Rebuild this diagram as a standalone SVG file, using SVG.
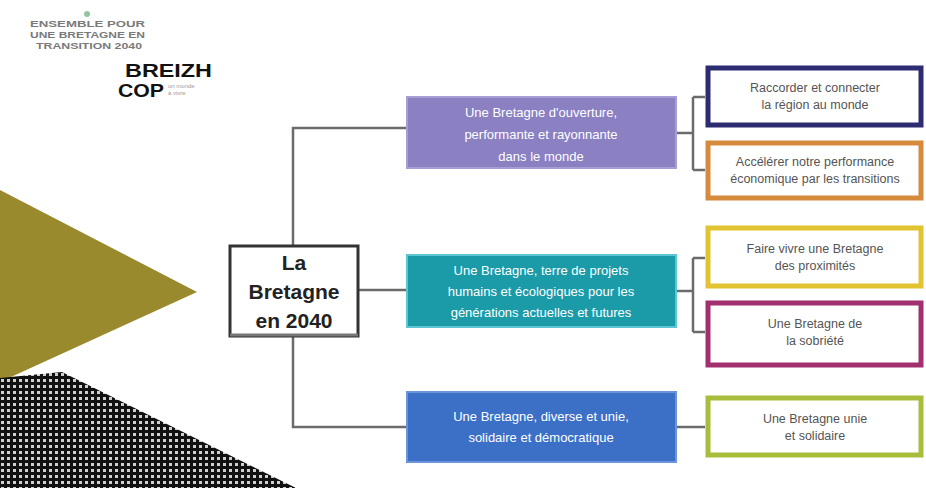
<svg xmlns="http://www.w3.org/2000/svg" width="926" height="488" viewBox="0 0 926 488">
  <style>
    .conn { stroke: #6b6b6b; stroke-width: 2.5; fill: none; }
    .mid text { font-family: "Liberation Sans", Arial, sans-serif; font-size: 13px; fill: #ffffff; text-anchor: middle; }
    .leaf rect { fill: #ffffff; stroke-width: 5; }
    .leaf text { font-family: "Liberation Sans", Arial, sans-serif; font-size: 12.5px; fill: #555555; text-anchor: middle; }
    .root text { font-family: "Liberation Sans", Arial, sans-serif; font-size: 21px; font-weight: bold; fill: #222222; text-anchor: middle; }
    .logo-small { font-family: "Liberation Sans", Arial, sans-serif; font-size: 9px; font-weight: bold; fill: #7a7a7a; }
    .logo-tiny { font-family: "Liberation Sans", Arial, sans-serif; font-size: 6px; fill: #9a9a9a; }
    .logo-big { font-family: "Liberation Sans", Arial, sans-serif; font-weight: bold; fill: #111111; }
  </style>
  <defs>
    <pattern id="dots" width="6" height="6" patternUnits="userSpaceOnUse">
      <rect width="6" height="6" fill="#111111"/>
      <rect x="1" y="1" width="3" height="3" fill="#d0d0d0"/>
    </pattern>
  </defs>

  <rect width="926" height="488" fill="#ffffff"/>

  <!-- decorative shapes on the left -->
  <polygon points="0,190 197,292 0,382" fill="#9a8a2e"/>
  <polygon points="0,378 62,372 296,488 0,488" fill="url(#dots)"/>

  <!-- logo -->
  <g id="logo">
    <text class="logo-small" x="30" y="27" textLength="115" lengthAdjust="spacingAndGlyphs">ENSEMBLE POUR</text>
    <text class="logo-small" x="30" y="38" textLength="115" lengthAdjust="spacingAndGlyphs">UNE BRETAGNE EN</text>
    <text class="logo-small" x="36" y="49" textLength="106" lengthAdjust="spacingAndGlyphs">TRANSITION 2040</text>
    <circle cx="87" cy="14" r="3" fill="#8fc6a0"/>
    <text class="logo-big" x="125" y="77" font-size="19" textLength="87" lengthAdjust="spacingAndGlyphs">BREIZH</text>
    <text class="logo-big" x="118" y="97" font-size="19" textLength="46" lengthAdjust="spacingAndGlyphs">COP</text>
    <text class="logo-tiny" x="168" y="88">un monde</text>
    <text class="logo-tiny" x="168" y="95">à vivre</text>
  </g>

  <!-- connectors -->
  <g id="connectors">
    <path class="conn" d="M293,245 V128 H407"/>
    <path class="conn" d="M359,290 H407"/>
    <path class="conn" d="M293,337 V427 H407"/>
    <path class="conn" d="M676,133 H693 M693,97 V170 M693,97 H705 M693,170 H705"/>
    <path class="conn" d="M676,291 H693 M693,258 V332 M693,258 H705 M693,332 H705"/>
    <path class="conn" d="M676,427 H705"/>
  </g>

  <!-- root node -->
  <g id="root" class="root">
    <rect x="230" y="246" width="128" height="90" fill="#ffffff" stroke="#333333" stroke-width="3"/>
    <line x1="230" y1="335" x2="358" y2="335" stroke="#777777" stroke-width="3"/>
    <text x="294" y="270">La</text>
    <text x="294" y="299">Bretagne</text>
    <text x="294" y="328">en 2040</text>
  </g>

  <!-- middle nodes -->
  <g id="axe-ouverture" class="mid">
    <rect x="407" y="97" width="269" height="71" fill="#8a80c2" stroke="#a69ed4" stroke-width="2"/>
    <text x="541" y="117">Une Bretagne d'ouverture,</text>
    <text x="541" y="139">performante et rayonnante</text>
    <text x="541" y="161">dans le monde</text>
  </g>
  <g id="axe-projets" class="mid">
    <rect x="407" y="255" width="269" height="72" fill="#1b9aa8" stroke="#5cc6d2" stroke-width="2"/>
    <text x="541" y="275">Une Bretagne, terre de projets</text>
    <text x="541" y="296">humains et écologiques pour les</text>
    <text x="541" y="317">générations actuelles et futures</text>
  </g>
  <g id="axe-unie" class="mid">
    <rect x="407" y="392" width="269" height="70" fill="#3c6fc6" stroke="#6b95d8" stroke-width="2"/>
    <text x="541" y="421">Une Bretagne, diverse et unie,</text>
    <text x="541" y="442">solidaire et démocratique</text>
  </g>

  <!-- leaf nodes -->
  <g id="raccorder" class="leaf">
    <rect x="708" y="68" width="213" height="57" stroke="#2d2b72"/>
    <text x="815" y="92">Raccorder et connecter</text>
    <text x="815" y="109">la région au monde</text>
  </g>
  <g id="accelerer" class="leaf">
    <rect x="708" y="143" width="213" height="55" stroke="#d58a3c"/>
    <text x="815" y="166">Accélérer notre performance</text>
    <text x="815" y="183">économique par les transitions</text>
  </g>
  <g id="proximites" class="leaf">
    <rect x="708" y="228" width="213" height="58" stroke="#e2c332"/>
    <text x="815" y="253">Faire vivre une Bretagne</text>
    <text x="815" y="270">des proximités</text>
  </g>
  <g id="sobriete" class="leaf">
    <rect x="708" y="303" width="213" height="62" stroke="#a3306e"/>
    <text x="815" y="328">Une Bretagne de</text>
    <text x="815" y="345">la sobriété</text>
  </g>
  <g id="solidaire" class="leaf">
    <rect x="708" y="398" width="213" height="57" stroke="#a9bd3c"/>
    <text x="815" y="423">Une Bretagne unie</text>
    <text x="815" y="440">et solidaire</text>
  </g>
</svg>
